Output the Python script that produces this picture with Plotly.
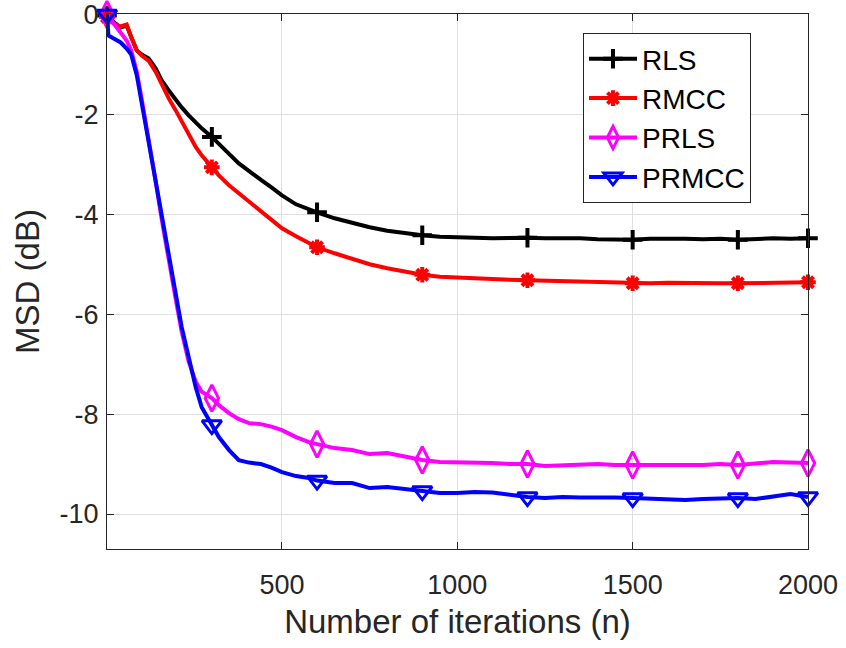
import plotly.graph_objects as go

iters = [1, 5, 20, 40, 57, 70, 86, 100, 120, 140, 157, 177, 197, 214, 234, 254, 271, 300,
         320, 349, 377, 406, 440, 470, 500, 540, 577, 600, 650, 700, 750, 800, 850, 900,
         950, 1000, 1050, 1100, 1150, 1200, 1250, 1300, 1350, 1400, 1450, 1500, 1550,
         1600, 1650, 1700, 1750, 1800, 1850, 1900, 1950, 2000]

rls = [-0.02, -0.05, -0.15, -0.26, -0.22, -0.45, -0.72, -0.80, -0.88, -1.08, -1.32, -1.52,
       -1.72, -1.86, -2.02, -2.17, -2.28, -2.45, -2.58, -2.79, -2.98, -3.14, -3.31, -3.46,
       -3.62, -3.80, -3.91, -3.96, -4.08, -4.18, -4.26, -4.33, -4.38, -4.42, -4.45, -4.47,
       -4.47, -4.48, -4.47, -4.47, -4.48, -4.47, -4.48, -4.50, -4.51, -4.51, -4.49, -4.48,
       -4.49, -4.50, -4.49, -4.51, -4.49, -4.48, -4.49, -4.48]

rmcc = [-0.05, -0.08, -0.18, -0.24, -0.20, -0.45, -0.72, -0.82, -0.93, -1.15, -1.40, -1.68,
        -1.92, -2.15, -2.40, -2.65, -2.82, -3.06, -3.22, -3.42, -3.58, -3.76, -3.96, -4.12,
        -4.28, -4.44, -4.58, -4.66, -4.78, -4.90, -5.00, -5.08, -5.15, -5.21, -5.25, -5.27,
        -5.29, -5.30, -5.31, -5.32, -5.33, -5.34, -5.35, -5.36, -5.37, -5.38, -5.38, -5.37,
        -5.38, -5.38, -5.38, -5.38, -5.37, -5.36, -5.36, -5.36]

prls = [0.0, -0.05, -0.18, -0.35, -0.52, -0.72, -1.15, -1.70, -2.50, -3.35, -4.10, -4.95,
        -5.70, -6.35, -6.95, -7.35, -7.55, -7.68, -7.82, -7.98, -8.10, -8.18, -8.20, -8.25,
        -8.32, -8.46, -8.56, -8.60, -8.68, -8.72, -8.80, -8.78, -8.86, -8.92, -8.96, -8.96,
        -8.97, -8.98, -9.00, -9.00, -9.04, -9.02, -9.01, -9.00, -9.02, -9.02, -9.02, -9.03,
        -9.04, -9.02, -9.00, -9.02, -8.99, -8.96, -8.97, -8.98]

prmcc = [0.0, -0.42, -0.48, -0.56, -0.68, -0.80, -1.22, -1.78, -2.52, -3.32, -4.06, -4.86,
         -5.58, -6.26, -6.86, -7.46, -7.86, -8.22, -8.46, -8.72, -8.92, -8.97, -9.00, -9.07,
         -9.16, -9.24, -9.28, -9.33, -9.38, -9.38, -9.48, -9.46, -9.50, -9.54, -9.58, -9.58,
         -9.56, -9.57, -9.62, -9.66, -9.68, -9.66, -9.67, -9.66, -9.67, -9.68, -9.70, -9.71,
         -9.72, -9.70, -9.68, -9.68, -9.70, -9.64, -9.60, -9.66]

marker_iters = [1, 300, 600, 900, 1200, 1500, 1800, 2000]

x_tickvals = [500, 1000, 1500, 2000]
x_ticktext = ["500", "1000", "1500", "2000"]
y_tickvals = [-10, -8, -6, -4, -2, 0]
y_ticktext = ["-10", "-8", "-6", "-4", "-2", "0"]

series = [
    ("RLS", rls, "#000000", "cross-thin-open", 14, 4),
    ("RMCC", rmcc, "#ff0000", "asterisk-open", 13, 4),
    ("PRLS", prls, "#ff00ff", "diamond-tall-open", 19, 3),
    ("PRMCC", prmcc, "#0000ff", "triangle-down-open", 17, 3),
]

fig = go.Figure()
for name, vals, color, sym, size, mlw in series:
    fig.add_trace(go.Scatter(x=iters, y=vals, mode="lines",
                             line=dict(color=color, width=4),
                             showlegend=False, hoverinfo="skip", cliponaxis=False))
    mx = [x for x in iters if x in marker_iters]
    my = [v for x, v in zip(iters, vals) if x in marker_iters]
    fig.add_trace(go.Scatter(x=mx, y=my, mode="markers",
                             marker=dict(symbol=sym, size=size, color=color,
                                         line=dict(color=color, width=mlw)),
                             showlegend=False, cliponaxis=False))

for name, vals, color, sym, size, mlw in series:
    fig.add_trace(go.Scatter(x=[None], y=[None], mode="lines+markers", name=name,
                             line=dict(color=color, width=4),
                             marker=dict(symbol=sym, size=size, color=color,
                                         line=dict(color=color, width=mlw))))

axcol = "#262626"
fig.update_layout(
    width=846, height=648,
    margin=dict(l=107, r=38, t=14, b=99, autoexpand=False),
    paper_bgcolor="white", plot_bgcolor="white",
    font=dict(family="Liberation Sans, Arial, sans-serif", color=axcol, size=27),
    showlegend=True,
    legend=dict(x=0.679, y=0.9645, xanchor="left", yanchor="top",
                bgcolor="white", bordercolor=axcol, borderwidth=1,
                font=dict(size=28, color="#000000"), itemwidth=48,
                tracegroupgap=0),
)
fig.update_xaxes(range=[1, 2000], tickvals=x_tickvals, ticktext=x_ticktext,
                 automargin=False, ticklabelstandoff=12, ticklabeloverflow="allow",
                 showgrid=True, gridcolor="#dfdfdf", gridwidth=1,
                 showline=True, linecolor=axcol, linewidth=1, mirror="allticks",
                 ticks="inside", ticklen=7, tickcolor=axcol, zeroline=False,
                 tickfont=dict(size=27),
                 title=dict(text="Number of iterations (n)", font=dict(size=33), standoff=10))
fig.update_yaxes(range=[-10.7, 0.01], tickvals=y_tickvals, ticktext=y_ticktext,
                 automargin=False, ticklabelstandoff=2, ticklabeloverflow="allow",
                 showgrid=True, gridcolor="#dfdfdf", gridwidth=1,
                 showline=True, linecolor=axcol, linewidth=1, mirror="allticks",
                 ticks="inside", ticklen=7, tickcolor=axcol, zeroline=False,
                 tickfont=dict(size=27),
                 title=dict(text="MSD (dB)", font=dict(size=33), standoff=10))

fig.write_html("out.html",
               config={"displayModeBar": False, "staticPlot": True},
               post_script="document.body.style.margin='0px';document.body.style.overflow='hidden';")
